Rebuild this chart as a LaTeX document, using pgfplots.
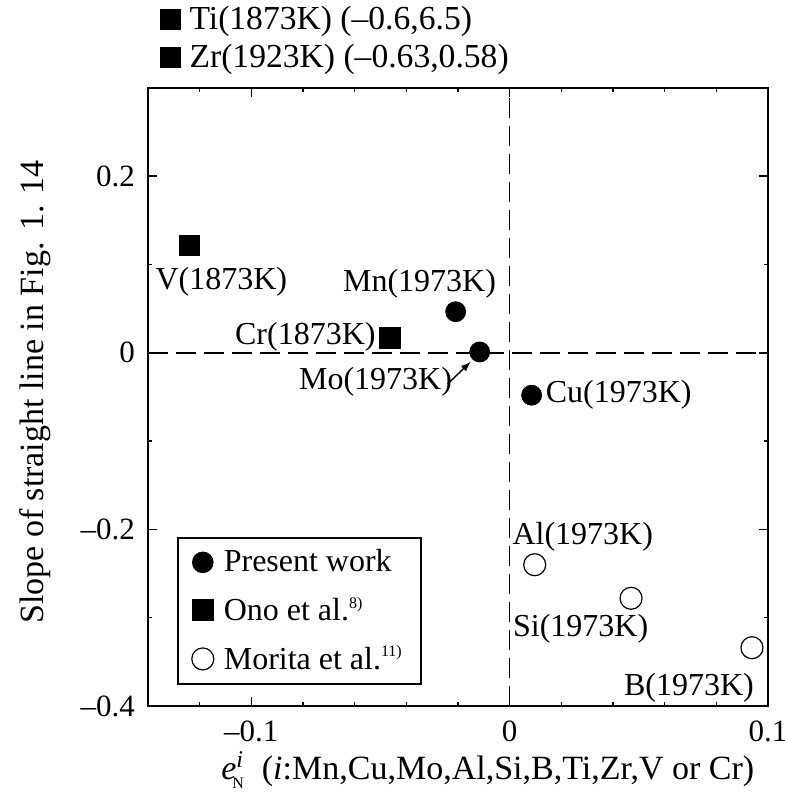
\documentclass[border=0pt]{standalone}
\usepackage{fontspec}
\setmainfont{Liberation Serif}
\usepackage{pgfplots}
\pgfplotsset{compat=1.18}
\newcommand{\lblfont}{\fontsize{16}{19}\selectfont}
\newcommand{\axlblfont}{\fontsize{17}{20}\selectfont}
\begin{document}
\begin{tikzpicture}
\begin{axis}[
  width=310pt, height=309pt, scale only axis,
  xmin=-0.14, xmax=0.1, ymin=-0.4, ymax=0.3,
  xtick={-0.1,0,0.1}, xticklabels={–0.1,0,0.1},
  minor xtick={-0.12,-0.08,-0.06,-0.04,-0.02,0.02,0.04,0.06,0.08},
  ytick={-0.4,-0.2,0,0.2}, yticklabels={–0.4,–0.2,0,0.2},
  minor ytick={-0.3,-0.1,0.1},
  tick align=inside,
  major tick length=4.5pt, minor tick length=2pt,
  every tick/.style={black, line width=0.8pt},
  axis line style={line width=1pt},
  tick label style={font=\fontsize{15.5}{18}\selectfont},
  xticklabel style={yshift=-4pt},
  yticklabel style={xshift=-3pt},
  label style={font=\axlblfont},
  xlabel={\textit{e}$^{\mbox{\fontsize{12}{13}\selectfont\textit{i}}}_{\kern-2pt\mbox{\fontsize{8}{9}\selectfont N}}$\ \ (\textit{i}:Mn,Cu,Mo,Al,Si,B,Ti,Zr,V or Cr)},
  xlabel style={at={(rel axis cs:0.548,-0.1036)}, anchor=center},
  ylabel={Slope of straight line in Fig. 1. 14},
  ylabel style={at={(rel axis cs:-0.182,0.508)}, anchor=center},
  legend style={at={(rel axis cs:0.0468,0.2735)}, anchor=north west, draw=black, line width=0.8pt, font=\lblfont, row sep=7pt, inner xsep=7pt, inner ysep=4pt},
  legend cell align=left,
  clip=false,
]
\addplot[only marks, mark=*, mark size=5pt, black] coordinates {(-0.0209,0.0466) (-0.0116,0.001) (0.0085,-0.048)};
\addlegendentry{\hspace{3pt}Present work\hspace{10pt}}
\addplot[only marks, mark=square*, mark size=5.2pt, black] coordinates {(-0.124,0.1216) (-0.0465,0.017)};
\addlegendentry{\hspace{3pt}Ono et al.\textsuperscript{\fontsize{8}{9}\selectfont 8)}}
\addplot[only marks, mark=o, mark size=5.5pt, black, line width=0.6pt, mark options={fill=white}] coordinates {(0.0097,-0.24) (0.047,-0.278) (0.0938,-0.334)};
\addlegendentry{\hspace{3pt}Morita et al.\textsuperscript{\fontsize{8}{9}\selectfont 11)}}

\draw[black, line width=0.8pt, dash pattern=on 10pt off 4pt] (axis cs:0,-0.4) -- (axis cs:0,0.3);
\draw[black, line width=0.8pt, dash pattern=on 10pt off 4pt] (axis cs:-0.14,0) -- (axis cs:0.1,0);

\node[font=\lblfont] at (axis cs:-0.1116,0.0807) {V(1873K)};
\node[font=\lblfont] at (axis cs:-0.0349,0.0784) {Mn(1973K)};
\node[font=\lblfont] at (axis cs:-0.0791,0.0182) {Cr(1873K)};
\node[font=\lblfont] at (axis cs:-0.0519,-0.033) {Mo(1973K)};
\node[font=\lblfont] at (axis cs:0.0422,-0.0477) {Cu(1973K)};
\node[font=\lblfont] at (axis cs:0.0283,-0.208) {Al(1973K)};
\node[font=\lblfont] at (axis cs:0.0275,-0.3125) {Si(1973K)};
\node[font=\lblfont] at (axis cs:0.0694,-0.3795) {B(1973K)};
\draw[-latex, line width=0.7pt] (axis cs:-0.0240,-0.0352) -- (axis cs:-0.0151,-0.0102);

\node[anchor=west, inner sep=0pt, font=\fontsize{16.8}{20}\selectfont] at (rel axis cs:0.019,1.107) {\rule{10.5pt}{10.5pt} Ti(1873K) (–0.6,6.5)};
\node[anchor=west, inner sep=0pt, font=\fontsize{16.8}{20}\selectfont] at (rel axis cs:0.019,1.0455) {\rule{10.5pt}{10.5pt} Zr(1923K) (–0.63,0.58)};

\coordinate (bl) at (rel axis cs:-0.2387,-0.1489);
\coordinate (tr) at (rel axis cs:1.0274,1.1424);
\end{axis}
\pgfresetboundingbox
\path[use as bounding box] (bl) rectangle (tr);
\end{tikzpicture}
\end{document}
